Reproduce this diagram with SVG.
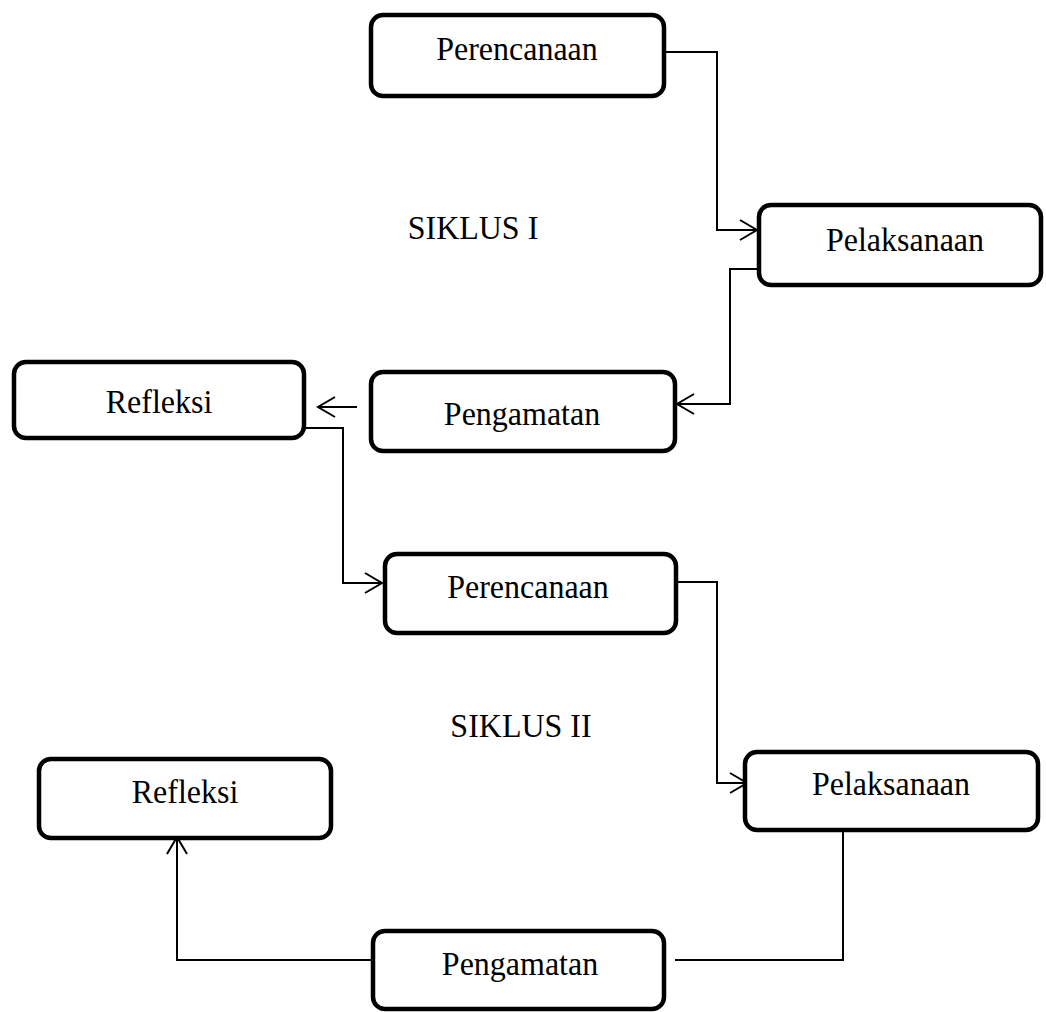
<svg xmlns="http://www.w3.org/2000/svg" width="1046" height="1012" viewBox="0 0 1046 1012">
  <style>
    .box { fill: #ffffff; stroke: #000000; stroke-width: 4.5; }
    .lbl { font-family: "Liberation Serif", "Times New Roman", serif; font-size: 32px; fill: #000000; text-anchor: middle; }
    .conn { fill: none; stroke: #000000; stroke-width: 2; }
  </style>
  <defs>
    <marker id="arr" markerUnits="userSpaceOnUse" markerWidth="24" markerHeight="24" viewBox="-20 -12 24 24" refX="0" refY="0" orient="auto">
      <path d="M-17,-10 L0,0 L-17,10" fill="none" stroke="#000000" stroke-width="2"/>
    </marker>
  </defs>
  <rect width="1046" height="1012" fill="#ffffff"/>

  <g id="connectors">
    <path class="conn" d="M664,52 H717 V230 H757" marker-end="url(#arr)"/>
    <path class="conn" d="M759,269 H730 V404 H677" marker-end="url(#arr)"/>
    <path class="conn" d="M357,407 H318" marker-end="url(#arr)"/>
    <path class="conn" d="M304,428 H343 V583 H382" marker-end="url(#arr)"/>
    <path class="conn" d="M676,582 H717 V783 H747" marker-end="url(#arr)"/>
    <path class="conn" d="M843,830 V960 H675"/>
    <path class="conn" d="M371,960 H177 V837" marker-end="url(#arr)"/>
  </g>

  <g id="perencanaan1">
    <rect class="box" x="371" y="15" width="293" height="81" rx="12"/>
    <text class="lbl" transform="translate(517,60) scale(1,1.07)">Perencanaan</text>
  </g>
  <g id="pelaksanaan1">
    <rect class="box" x="759" y="205" width="282" height="80" rx="12"/>
    <text class="lbl" transform="translate(905,251) scale(1,1.07)">Pelaksanaan</text>
  </g>
  <g id="siklus1">
    <text class="lbl" transform="translate(473,239) scale(1,1.07)">SIKLUS I</text>
  </g>
  <g id="pengamatan1">
    <rect class="box" x="371" y="372" width="304" height="79" rx="12"/>
    <text class="lbl" transform="translate(522,425) scale(1,1.07)">Pengamatan</text>
  </g>
  <g id="refleksi1">
    <rect class="box" x="14" y="362" width="290" height="76" rx="12"/>
    <text class="lbl" transform="translate(159,413) scale(1,1.07)">Refleksi</text>
  </g>
  <g id="perencanaan2">
    <rect class="box" x="385" y="554" width="291" height="79" rx="12"/>
    <text class="lbl" transform="translate(528,598) scale(1,1.07)">Perencanaan</text>
  </g>
  <g id="siklus2">
    <text class="lbl" transform="translate(521,737) scale(1,1.07)">SIKLUS II</text>
  </g>
  <g id="pelaksanaan2">
    <rect class="box" x="745" y="752" width="293" height="78" rx="12"/>
    <text class="lbl" transform="translate(891,795) scale(1,1.07)">Pelaksanaan</text>
  </g>
  <g id="refleksi2">
    <rect class="box" x="39" y="759" width="292" height="79" rx="12"/>
    <text class="lbl" transform="translate(185,803) scale(1,1.07)">Refleksi</text>
  </g>
  <g id="pengamatan2">
    <rect class="box" x="373" y="931" width="291" height="78" rx="12"/>
    <text class="lbl" transform="translate(520,975) scale(1,1.07)">Pengamatan</text>
  </g>
</svg>
